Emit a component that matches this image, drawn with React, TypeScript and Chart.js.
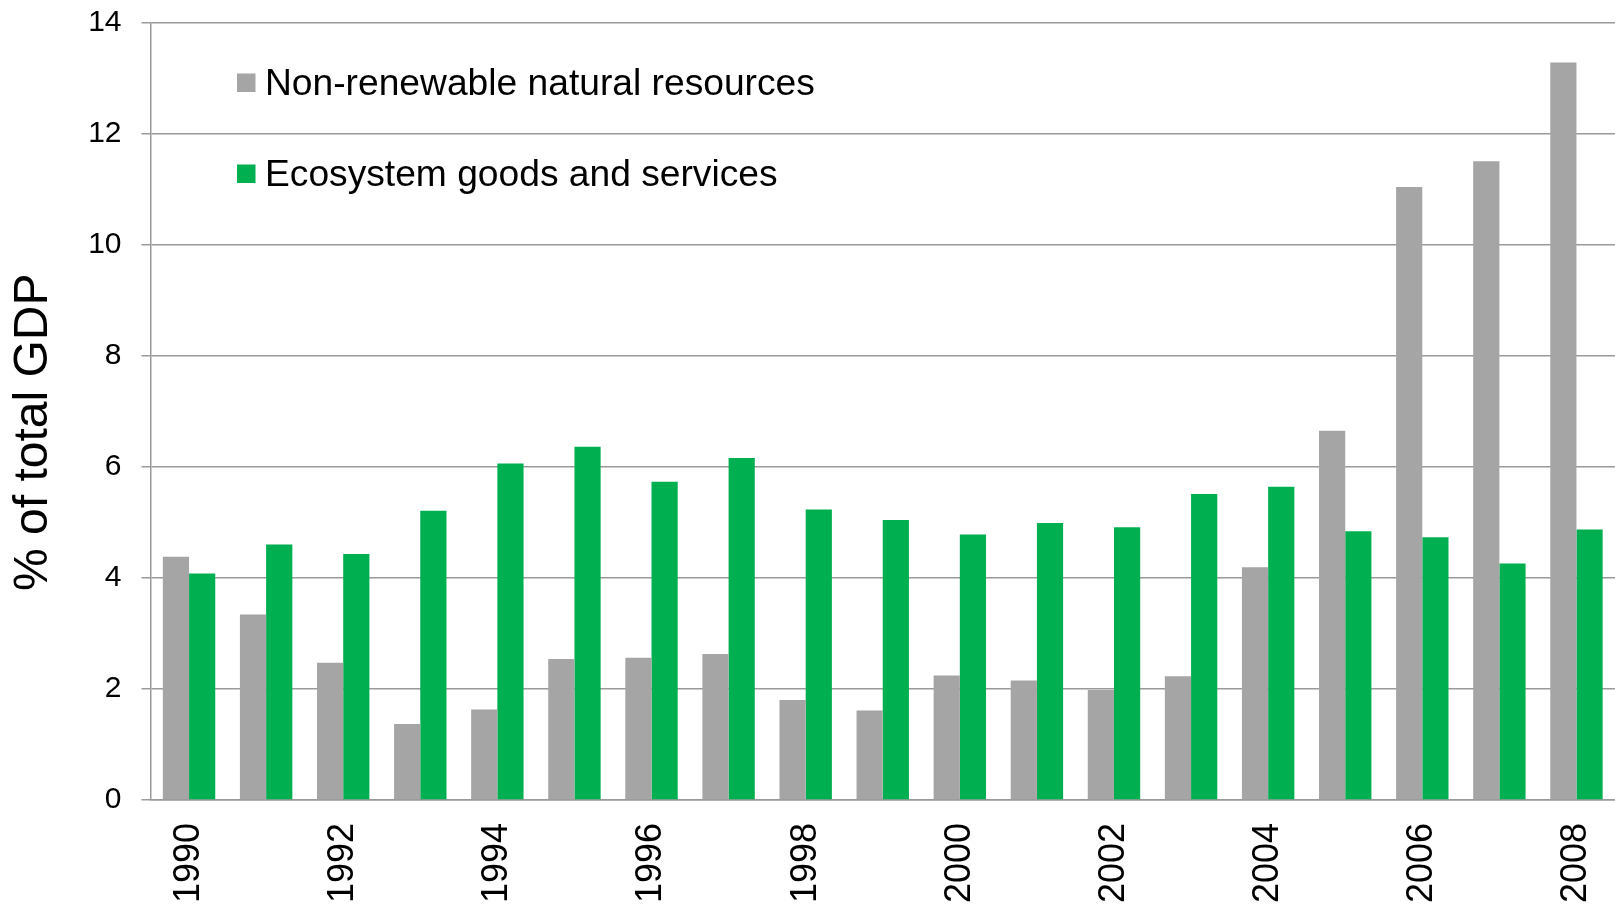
import React, { useEffect, useRef } from "react";
import { Chart, registerables } from "chart.js";

Chart.register(...registerables);

const years: string[] = [
  "1990", "1991", "1992", "1993", "1994", "1995", "1996", "1997", "1998", "1999",
  "2000", "2001", "2002", "2003", "2004", "2005", "2006", "2007", "2008",
];

const nonRenewable: number[] = [
  4.38, 3.34, 2.47, 1.37, 1.63, 2.54, 2.56, 2.63, 1.8, 1.61,
  2.24, 2.15, 1.98, 2.23, 4.19, 6.65, 11.04, 11.5, 13.28,
];

const ecosystem: number[] = [
  4.08, 4.6, 4.43, 5.21, 6.06, 6.36, 5.73, 6.16, 5.23, 5.04,
  4.78, 4.99, 4.91, 5.51, 5.64, 4.84, 4.73, 4.26, 4.87,
];

const seriesNames: string[] = ["Non-renewable natural resources", "Ecosystem goods and services"];
const seriesColors: string[] = ["#A5A5A5", "#00B050"];
const yTitle = "% of total GDP";
const FONT = "'Liberation Sans', Arial, sans-serif";
const GRID = "#9A9A9A";

const legendPlugin = {
  id: "insideLegend",
  afterDraw(chart: any) {
    const { ctx, chartArea } = chart;
    ctx.save();
    ctx.font = `37.2px ${FONT}`;
    ctx.textBaseline = "alphabetic";
    ctx.textAlign = "left";
    chart.data.datasets.forEach((ds: any, i: number) => {
      const top = chartArea.top + 51 + i * 91;
      ctx.fillStyle = ds.backgroundColor;
      ctx.fillRect(chartArea.left + 86.5, top, 18.5, 18.5);
      ctx.fillStyle = "#000";
      ctx.fillText(ds.label, chartArea.left + 114.5, top + 21.7);
    });
    ctx.restore();
  },
};

const yTitlePlugin = {
  id: "yTitle",
  afterDraw(chart: any) {
    const { ctx, chartArea } = chart;
    ctx.save();
    ctx.font = `48px ${FONT}`;
    ctx.fillStyle = "#000";
    ctx.textAlign = "center";
    ctx.textBaseline = "middle";
    ctx.translate(34, (chartArea.top + chartArea.bottom) / 2 + 21);
    ctx.rotate(-Math.PI / 2);
    ctx.fillText(yTitle, 0, 0);
    ctx.restore();
  },
};

export default function App() {
  const canvasRef = useRef<HTMLCanvasElement | null>(null);

  useEffect(() => {
    if (!canvasRef.current) return;
    const chart = new Chart(canvasRef.current, {
      type: "bar",
      data: {
        labels: years,
        datasets: [
          {
            label: seriesNames[0],
            data: nonRenewable,
            backgroundColor: seriesColors[0],
            borderWidth: 0,
            categoryPercentage: 0.68,
            barPercentage: 1,
          },
          {
            label: seriesNames[1],
            data: ecosystem,
            backgroundColor: seriesColors[1],
            borderWidth: 0,
            categoryPercentage: 0.68,
            barPercentage: 1,
          },
        ],
      },
      options: {
        animation: false,
        responsive: true,
        maintainAspectRatio: false,
        devicePixelRatio: 1,
        layout: { padding: { top: 22.5, left: 0, right: 0, bottom: 0 } },
        plugins: {
          legend: { display: false },
          tooltip: { enabled: false },
          title: { display: false },
        },
        scales: {
          x: {
            grid: { display: false, drawTicks: false },
            border: { display: true, color: GRID, width: 1.5 },
            ticks: {
              autoSkip: false,
              minRotation: 90,
              maxRotation: 90,
              padding: 23,
              color: "#000",
              font: { family: FONT, size: 36 },
              callback: (_v: any, i: number) => (i % 2 === 0 ? years[i] : ""),
            },
            afterFit: (s: any) => {
              s.height = 110;
              s.paddingLeft = 0;
              s.paddingRight = 0;
            },
          },
          y: {
            min: 0,
            max: 14,
            grid: { color: GRID, lineWidth: 1.5, tickLength: 9, drawTicks: true },
            border: { display: true, color: GRID, width: 1.5 },
            ticks: {
              stepSize: 2,
              padding: 20,
              color: "#000",
              font: { family: FONT, size: 30 },
            },
            afterFit: (s: any) => {
              s.width = 150.5;
              s.paddingTop = 0;
              s.paddingBottom = 0;
            },
          },
        },
      },
      plugins: [legendPlugin, yTitlePlugin],
    });
    return () => chart.destroy();
  }, []);

  return (
    <div style={{ position: "fixed", left: 0, top: 0, width: 1615, height: 910, background: "#fff" }}>
      <canvas ref={canvasRef} />
    </div>
  );
}
